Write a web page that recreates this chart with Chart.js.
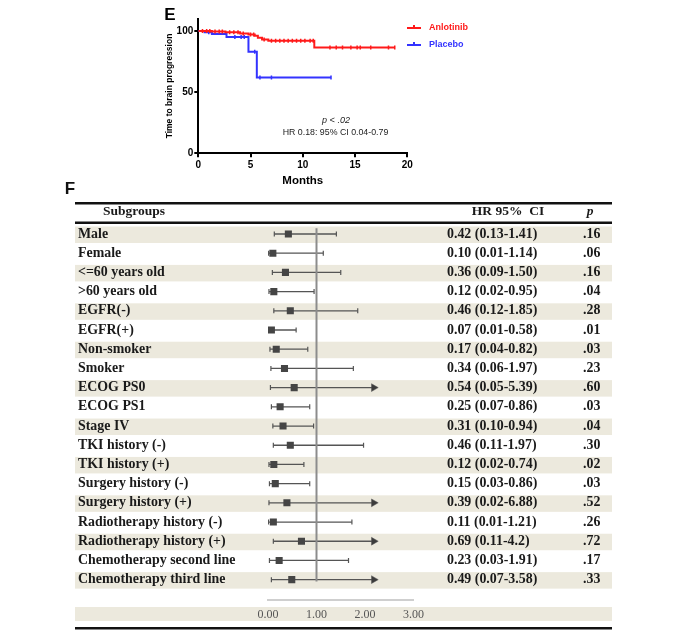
<!DOCTYPE html>
<html>
<head>
<meta charset="utf-8">
<script src="https://cdn.jsdelivr.net/npm/chart.js@4.4.1/dist/chart.umd.min.js"></script>
<style>
body { margin: 0; background: #fff; }
#wrap { position: relative; width: 685px; height: 635px; }
canvas { position: absolute; left: 0; top: 0; }
</style>
</head>
<body>
<div id="wrap">
<canvas id="forest" width="685" height="635"></canvas>
<canvas id="km" width="685" height="200"></canvas>
</div>
<script>

//------------------------------------------------------------------ KM data

var anlotinibTime = [0, 1.3, 2.6, 4.0, 4.8, 5.4, 5.7, 6.1, 6.7, 11.1, 18.8];
var anlotinibSurv = [100, 99.5, 99, 98, 97, 96, 94.5, 93, 92, 86.5, 86.5];
var anlotinibCensor = [0.4, 0.8, 1.1, 1.6, 2.0, 2.3, 3.0, 3.4, 3.8, 4.3, 5.0, 5.3, 6.3, 7.0, 7.4, 7.8,
                       8.2, 8.6, 9.0, 9.4, 9.8, 10.2, 10.7, 11.0, 12.6, 13.2, 13.8, 14.6, 15.2, 15.5, 16.5, 18.2, 18.8];

var placeboTime = [0, 0.6, 1.3, 2.7, 4.8, 5.6, 12.7];
var placeboSurv = [100, 99, 97.5, 95, 83, 62, 62];
var placeboCensor = [1.0, 3.5, 4.1, 4.4, 5.4, 5.9, 7.0, 12.7];

var kmLegend = ['Anlotinib', 'Placebo'];
var kmColors = ['#ff1a1a', '#3333ff'];

//------------------------------------------------------------------ forest data

var subgroups = ['Male', 'Female', '<=60 years old', '>60 years old', 'EGFR(-)', 'EGFR(+)',
    'Non-smoker', 'Smoker', 'ECOG PS0', 'ECOG PS1', 'Stage IV', 'TKI history (-)', 'TKI history (+)',
    'Surgery history (-)', 'Surgery history (+)', 'Radiotherapy history (-)', 'Radiotherapy history (+)',
    'Chemotherapy second line', 'Chemotherapy third line'];

var hr =          [0.42, 0.10, 0.36, 0.12, 0.46, 0.07, 0.17, 0.34, 0.54, 0.25, 0.31, 0.46, 0.12, 0.15, 0.39, 0.11, 0.69, 0.23, 0.49];
var ciLow =       [0.13, 0.01, 0.09, 0.02, 0.12, 0.01, 0.04, 0.06, 0.05, 0.07, 0.10, 0.11, 0.02, 0.03, 0.02, 0.01, 0.11, 0.03, 0.07];
// upper whisker ends as drawn in the figure
var whiskerHigh = [1.41, 1.14, 1.50, 0.95, 1.85, 0.58, 0.82, 1.76, 5.39, 0.86, 0.94, 1.97, 0.74, 0.86, 6.88, 1.73, 4.2, 1.66, 3.58];

var hrLabels = ['0.42 (0.13-1.41)', '0.10 (0.01-1.14)', '0.36 (0.09-1.50)', '0.12 (0.02-0.95)', '0.46 (0.12-1.85)',
    '0.07 (0.01-0.58)', '0.17 (0.04-0.82)', '0.34 (0.06-1.97)', '0.54 (0.05-5.39)', '0.25 (0.07-0.86)',
    '0.31 (0.10-0.94)', '0.46 (0.11-1.97)', '0.12 (0.02-0.74)', '0.15 (0.03-0.86)', '0.39 (0.02-6.88)',
    '0.11 (0.01-1.21)', '0.69 (0.11-4.2)', '0.23 (0.03-1.91)', '0.49 (0.07-3.58)'];
var pLabels = ['.16', '.06', '.16', '.04', '.28', '.01', '.03', '.23', '.60', '.03', '.04', '.30', '.02', '.03',
    '.52', '.26', '.72', '.17', '.33'];

var arrowClip = 2.18;

//------------------------------------------------------------------

var sans = '"Liberation Sans", Arial, sans-serif';
var serif = '"Liberation Serif", "Times New Roman", serif';
var shade = '#ece9dd';

function survAt(times, surv, t){
    var s = surv[0];
    for (let i = 0; i < times.length; i++) {
        if (times[i] <= t) s = surv[i];
    }
    return s;
}

function pts(times, vals){
    return times.map((t, i) => ({x: t, y: vals[i]}));
}

//------------------------------------------------------------------ KM chart

const kmDecor = {
    id: 'kmDecor',
    afterDraw(chart){
        const ctx = chart.ctx;
        ctx.save();
        ctx.textBaseline = 'middle';
        ctx.fillStyle = '#000';
        ctx.textAlign = 'center';
        ctx.font = 'bold 17px ' + sans;
        ctx.fillText('E', 170, 15);

        for (let i = 0; i < kmLegend.length; i++) {
            const ly = 28 + i * 17;
            ctx.strokeStyle = kmColors[i];
            ctx.lineWidth = 2;
            ctx.beginPath();
            ctx.moveTo(407, ly); ctx.lineTo(421, ly);
            ctx.moveTo(414, ly); ctx.lineTo(414, ly - 3);
            ctx.stroke();
            ctx.fillStyle = kmColors[i];
            ctx.font = 'bold 9px ' + sans;
            ctx.textAlign = 'left';
            ctx.fillText(kmLegend[i], 429, ly);
        }

        ctx.fillStyle = '#222';
        ctx.textAlign = 'center';
        ctx.font = 'italic 9px ' + sans;
        ctx.fillText('p < .02', 336, 120);
        ctx.font = '8.8px ' + sans;
        ctx.fillText('HR 0.18: 95% CI 0.04-0.79', 335.5, 133);
        ctx.restore();
    }
};

const kmAxisFont = {family: sans, size: 10, weight: 'bold'};

const km_chart = new Chart(document.getElementById('km'), {
    type: 'line',
    data: {
        datasets: [{
            data: pts(anlotinibTime, anlotinibSurv),
            stepped: 'before',
            borderColor: kmColors[0],
            borderWidth: 2,
            pointRadius: 0
        }, {
            data: anlotinibCensor.map(t => ({x: t, y: survAt(anlotinibTime, anlotinibSurv, t)})),
            showLine: false,
            pointStyle: 'line',
            pointRotation: 90,
            pointRadius: 2,
            pointBorderColor: kmColors[0],
            pointBorderWidth: 1.5
        }, {
            data: pts(placeboTime, placeboSurv),
            stepped: 'before',
            borderColor: kmColors[1],
            borderWidth: 2,
            pointRadius: 0
        }, {
            data: placeboCensor.map(t => ({x: t, y: survAt(placeboTime, placeboSurv, t)})),
            showLine: false,
            pointStyle: 'line',
            pointRotation: 90,
            pointRadius: 2,
            pointBorderColor: kmColors[1],
            pointBorderWidth: 1.5
        }]
    },
    options: {
        responsive: false,
        animation: false,
        layout: {padding: {left: 158.3, right: 277.7, top: 18.7, bottom: 11.7}},
        plugins: {legend: {display: false}, tooltip: {enabled: false}},
        scales: {
            x: {
                type: 'linear', min: 0, max: 20,
                ticks: {stepSize: 5, padding: 2, color: '#000', font: kmAxisFont},
                grid: {drawOnChartArea: false, tickLength: 4, color: '#000', lineWidth: 2},
                border: {color: '#000', width: 2},
                title: {display: true, text: 'Months', color: '#000',
                        font: {family: sans, size: 11.5, weight: 'bold'}, padding: {top: 0, bottom: 1}},
                afterFit(s){ s.height = 35; }
            },
            y: {
                type: 'linear', min: 0, max: 110,
                ticks: {stepSize: 50, padding: 1, color: '#000', font: kmAxisFont},
                afterBuildTicks(s){ s.ticks = s.ticks.filter(t => t.value % 50 === 0); },
                grid: {drawOnChartArea: false, tickLength: 4, color: '#000', lineWidth: 2},
                border: {color: '#000', width: 2},
                title: {display: true, text: 'Time to brain progression', color: '#000',
                        font: {family: sans, size: 8.5, weight: 'bold'}, padding: {top: 6, bottom: 0}},
                afterFit(s){ s.width = 40; }
            }
        }
    },
    plugins: [kmDecor]
});

//------------------------------------------------------------------ forest plot

const tableLeft = 75, tableWidth = 537;

const forestDecor = {
    id: 'forestDecor',
    beforeDraw(chart){
        const ctx = chart.ctx, y = chart.scales.y;
        ctx.save();
        ctx.fillStyle = shade;
        for (let i = 0; i < subgroups.length; i += 2) {
            const py = y.getPixelForValue(i);
            ctx.fillRect(tableLeft, py - 7.5, tableWidth, 16.5);
        }
        ctx.fillRect(tableLeft, 607, tableWidth, 14);
        ctx.restore();
    },
    afterDraw(chart){
        const ctx = chart.ctx, y = chart.scales.y;
        ctx.save();
        ctx.fillStyle = '#111';
        ctx.fillRect(tableLeft, 202, tableWidth, 2.5);
        ctx.fillRect(tableLeft, 221.5, tableWidth, 2.5);
        ctx.fillRect(tableLeft, 627, tableWidth, 2.5);

        ctx.font = 'bold 17px ' + sans;
        ctx.textAlign = 'center';
        ctx.textBaseline = 'middle';
        ctx.fillText('F', 70, 189);

        ctx.fillStyle = '#1a1a1a';
        ctx.font = 'bold 13.5px ' + serif;
        ctx.fillText('Subgroups', 134, 212);
        ctx.font = 'bold 13.5px ' + serif;
        ctx.fillText('HR 95%  CI', 508, 212);
        ctx.font = 'italic bold 13.5px ' + serif;
        ctx.fillText('p', 590, 212);

        ctx.font = 'bold 13.9px ' + serif;
        ctx.textAlign = 'left';
        for (let i = 0; i < subgroups.length; i++) {
            const py = y.getPixelForValue(i);
            ctx.fillText(subgroups[i], 78, py);
            ctx.fillText(hrLabels[i], 447, py);
            ctx.fillText(pLabels[i], 583, py);
        }
        ctx.restore();
    }
};

const whiskers = subgroups.map((s, i) => {
    const arrow = whiskerHigh[i] > arrowClip;
    return {
        data: [{x: ciLow[i], y: i}, {x: arrow ? arrowClip : whiskerHigh[i], y: i}],
        showLine: true,
        borderColor: '#555',
        borderWidth: 1.3,
        pointStyle: ['line', arrow ? 'triangle' : 'line'],
        pointRotation: 90,
        pointRadius: [2.5, arrow ? 4.5 : 2.5],
        pointBackgroundColor: '#3c3c3c',
        pointBorderColor: '#555',
        pointBorderWidth: [1.2, arrow ? 0.5 : 1.2]
    };
});

const forest_chart = new Chart(document.getElementById('forest'), {
    type: 'scatter',
    data: {
        datasets: [{
            data: hr.map((v, i) => ({x: v, y: i})),
            pointStyle: 'rect',
            pointRadius: 5,
            pointBackgroundColor: '#454545',
            pointBorderWidth: 0
        }, {
            data: [{x: 1, y: -0.3}, {x: 1, y: 18.1}],
            showLine: true,
            borderColor: '#8c8c8c',
            borderWidth: 2,
            pointRadius: 0
        }].concat(whiskers)
    },
    options: {
        responsive: false,
        animation: false,
        layout: {padding: {left: 268, right: 271.5, top: 224.4, bottom: 15}},
        plugins: {legend: {display: false}, tooltip: {enabled: false}},
        scales: {
            x: {
                type: 'linear', min: 0, max: 3,
                grid: {display: false, drawTicks: false},
                border: {display: true, color: '#cfcfcf', width: 2},
                ticks: {stepSize: 1, padding: 8, color: '#555',
                        font: {family: serif, size: 12}, callback: v => v.toFixed(2)},
                afterFit(s){ s.height = 20; }
            },
            y: {type: 'linear', display: false, reverse: true, min: -0.5, max: 19.06}
        }
    },
    plugins: [forestDecor]
});

</script>
</body>
</html>
